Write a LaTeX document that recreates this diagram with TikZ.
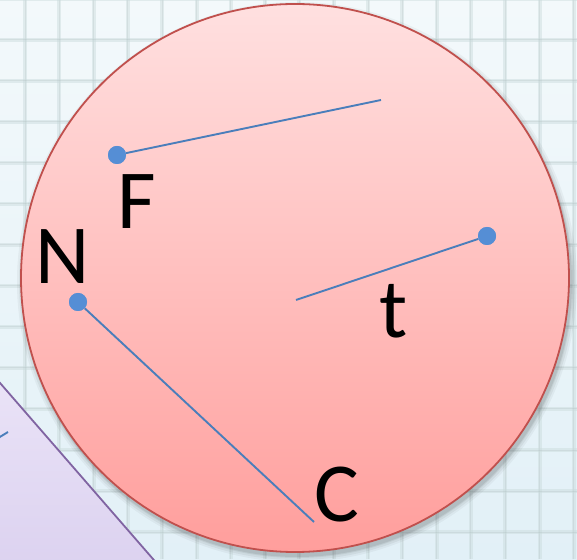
\documentclass[tikz,border=0pt]{standalone}
\usepackage{fontspec}
\setmainfont{Carlito}
\definecolor{bgtop}{HTML}{F3F9FB}
\definecolor{bgbot}{HTML}{E2F0F7}
\definecolor{gridc}{HTML}{C9DADB}
\definecolor{ctop}{HTML}{FFE0E0}
\definecolor{cbot}{HTML}{FF9E9C}
\definecolor{cedge}{HTML}{C0504D}
\definecolor{ptop}{HTML}{EAE3F7}
\definecolor{pbot}{HTML}{DCD2F0}
\definecolor{pedge}{HTML}{8064A2}
\definecolor{lineblue}{HTML}{4A7EBB}
\definecolor{dotblue}{HTML}{558ED5}
\tikzset{
  gridline/.style={draw=gridc, line width=4pt, opacity=0.45},
  gridcore/.style={draw=gridc!80!black, line width=1pt, opacity=0.2},
  seg/.style={draw=lineblue, line width=1.9pt},
  dotnode/.style={circle, fill=dotblue, inner sep=0pt, minimum size=18pt},
  letter/.style={inner sep=0pt, font=\fontsize{84}{84}\selectfont, text=black},
}
\begin{document}
\begin{tikzpicture}[x=1pt,y=1pt]
  \useasboundingbox (0,0) rectangle (577,559);
  % background
  \shade[top color=bgtop, bottom color=bgbot] (0,0) rectangle (577,559);
  \foreach \k in {0,...,16} {
    \draw[gridline] ({25+34.3*\k},0) -- ({25+34.3*\k},559);
    \draw[gridcore] ({25+34.3*\k},0) -- ({25+34.3*\k},559);
  }
  \foreach \k in {-1,...,13} {
    \draw[gridline] (0,{519-41*\k}) -- (577,{519-41*\k});
    \draw[gridcore] (0,{519-41*\k}) -- (577,{519-41*\k});
  }
  % purple shape at lower left
  \shade[top color=ptop, bottom color=pbot] (-5,181.8) -- (158,-5.75) -- (-5,-5.75) -- cycle;
  \draw[draw=pedge, line width=1.8pt] (-5,181.8) -- (158,-5.75);
  \coordinate (s1) at (-1,121.5);
  \coordinate (s2) at (8,127);
  \draw[seg] (s1) -- (s2);
  % circle shadow
  \foreach \r/\o in {280/0.04,278/0.05,276/0.06,275/0.08} {
    \fill[black, opacity=\o] (297,277) circle (\r);
  }
  % circle
  \shade[top color=ctop, bottom color=cbot] (295,281) circle (274);
  \draw[cedge, line width=1.8pt] (295,281) circle (274);
  % dots and lines
  \node[dotnode] (F) at (117,404) {};
  \coordinate (Fe) at (381,459);
  \node[dotnode] (T) at (487,323) {};
  \coordinate (Te) at (296,259);
  \node[dotnode] (N) at (78,257) {};
  \coordinate (Ce) at (314,37);
  \draw[seg] (F) -- (Fe);
  \draw[seg] (T) -- (Te);
  \draw[seg] (N) -- (Ce);
  \node[dotnode] at (F) {};
  \node[dotnode] at (T) {};
  \node[dotnode] at (N) {};
  % labels
  \node[letter] (lF) at (136.5,357) {F};
  \node[letter] (lN) at (63,302.5) {N};
  \node[letter] (lt) at (394,248) {t};
  \node[letter] (lC) at (337,64) {C};
\end{tikzpicture}
\end{document}
